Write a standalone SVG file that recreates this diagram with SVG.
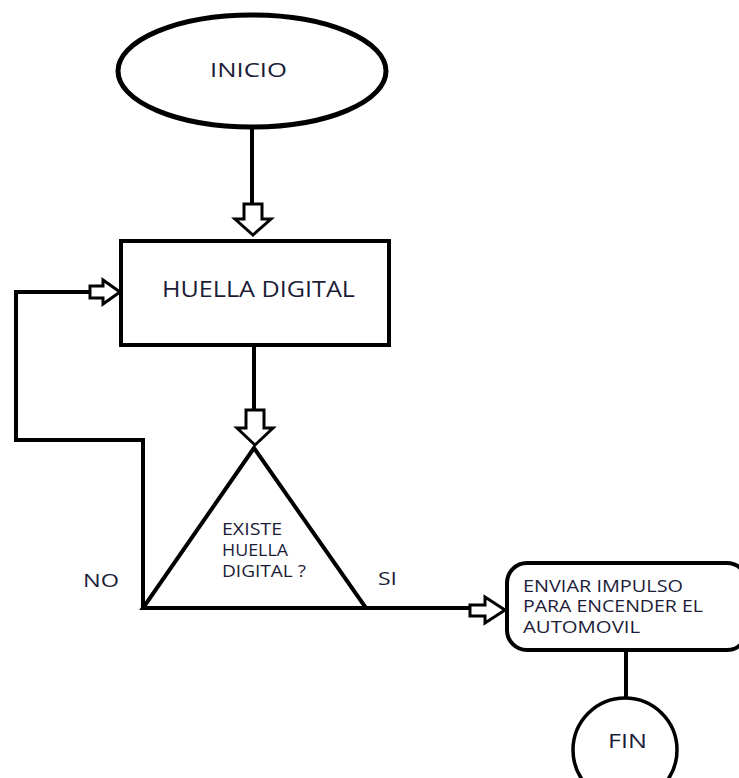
<svg xmlns="http://www.w3.org/2000/svg" width="739" height="778" viewBox="0 0 739 778">
<style>
.sh{fill:#fff;stroke:#000;stroke-linejoin:miter}
.ln{fill:none;stroke:#000;stroke-width:4}
.ar{fill:#fff;stroke:#000;stroke-width:3;stroke-linejoin:miter}
text{font-family:"Open Sans","Liberation Sans",sans-serif;font-weight:500;fill:#1c1c38}
</style>
<rect width="739" height="778" fill="#fff"/>
<g id="connectors">
<path class="ln" d="M252,128 V205"/>
<polygon class="ar" points="244,204 262,204 262,219 271,219 253,235 235,219 244,219"/>
<path class="ln" d="M254,345 V411"/>
<polygon class="ar" points="246,410 264,410 264,428 273,428 255,445 237,428 246,428"/>
<path class="ln" d="M143,608 V440 H16 V292 H91"/>
<polygon class="ar" points="90,286 103,286 103,280 120,292 103,304 103,298 90,298"/>
<path class="ln" d="M366,608 H471"/>
<polygon class="ar" points="470,605 485,605 485,597 505,610 485,623 485,616 470,616"/>
<path class="ln" d="M626,650 V698"/>
</g>
<g id="inicio">
<ellipse class="sh" cx="252" cy="71" rx="134" ry="56" stroke-width="5"/>
<text x="210" y="77" font-size="20" textLength="77" lengthAdjust="spacingAndGlyphs">INICIO</text>
</g>
<g id="huella">
<rect class="sh" x="121" y="241" width="268" height="104" stroke-width="4"/>
<text x="162" y="297" font-size="21" textLength="193" lengthAdjust="spacingAndGlyphs">HUELLA DIGITAL</text>
</g>
<g id="decision">
<polygon class="sh" points="254,448 143,608 366,608" stroke-width="4"/>
<text x="222" y="535" font-size="16" textLength="60" lengthAdjust="spacingAndGlyphs">EXISTE</text>
<text x="222" y="556" font-size="16" textLength="66" lengthAdjust="spacingAndGlyphs">HUELLA</text>
<text x="222" y="577" font-size="16" textLength="84" lengthAdjust="spacingAndGlyphs">DIGITAL ?</text>
</g>
<g id="labels">
<text x="83" y="587" font-size="18" textLength="36" lengthAdjust="spacingAndGlyphs">NO</text>
<text x="378" y="585" font-size="18" textLength="19" lengthAdjust="spacingAndGlyphs">SI</text>
</g>
<g id="enviar">
<rect class="sh" x="507" y="563" width="240" height="87" rx="20" stroke-width="4"/>
<text x="523" y="592" font-size="16" textLength="160" lengthAdjust="spacingAndGlyphs">ENVIAR IMPULSO</text>
<text x="523" y="612" font-size="16" textLength="180" lengthAdjust="spacingAndGlyphs">PARA ENCENDER EL</text>
<text x="523" y="633" font-size="16" textLength="117" lengthAdjust="spacingAndGlyphs">AUTOMOVIL</text>
</g>
<g id="fin">
<circle class="sh" cx="625" cy="750" r="52" stroke-width="3.5"/>
<text x="608" y="748" font-size="20" textLength="39" lengthAdjust="spacingAndGlyphs">FIN</text>
</g>
</svg>
